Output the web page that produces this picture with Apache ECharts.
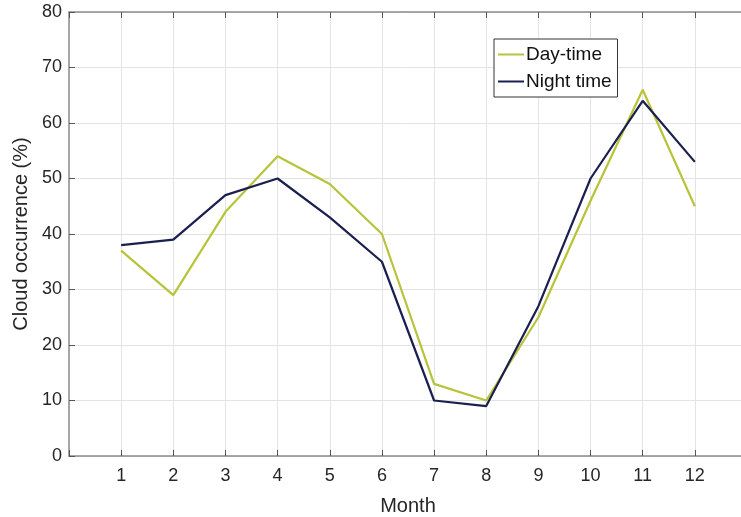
<!DOCTYPE html>
<html>
<head>
<meta charset="utf-8">
<script src="https://cdn.jsdelivr.net/npm/echarts@6/dist/echarts.min.js"></script>
<style>
  html, body { margin: 0; padding: 0; background: #fff; }
  #chart { width: 741px; height: 517px; }
</style>
</head>
<body>
<div id="chart"></div>
<script>
// Monthly cloud occurrence (%)
const months = [1, 2, 3, 4, 5, 6, 7, 8, 9, 10, 11, 12];
const dayTime = [37, 29, 44, 54, 49, 40, 13, 10, 25, 46, 66, 45];
const nightTime = [38, 39, 47, 50, 43, 35, 10, 9, 27, 50, 64, 53];
const yTicks = [0, 10, 20, 30, 40, 50, 60, 70, 80];

const font = '"Liberation Sans", Arial, Helvetica, sans-serif';
const axisGrey = '#8c8c8c';
const textColor = '#262626';

const chart = echarts.init(document.getElementById('chart'), null, { renderer: 'canvas' });

const pairs = (ys) => months.map((m, i) => [m, ys[i]]);

chart.setOption({
  animation: false,
  backgroundColor: '#ffffff',
  // plot box runs slightly past the right edge of the canvas
  grid: {
    left: 69, top: 12, width: 678, height: 444,
    containLabel: false, outerBoundsMode: 'none'
  },
  legend: {
    orient: 'vertical',
    left: 494,
    top: 39,
    padding: [6, 6, 6, 4],
    itemGap: 8,
    itemWidth: 26,
    itemHeight: 2,
    icon: 'rect',
    borderColor: '#333',
    borderWidth: 1,
    backgroundColor: '#fff',
    textStyle: { fontFamily: font, fontSize: 19, color: '#111', padding: [0, 0, 0, -3] },
    data: ['Day-time', 'Night time']
  },
  xAxis: [
    {
      type: 'value', min: 0, max: 13, interval: 1, position: 'bottom',
      name: 'Month', nameLocation: 'middle', nameGap: 40,
      nameTextStyle: { fontFamily: font, fontSize: 20, color: textColor },
      axisLine: { show: true, lineStyle: { color: axisGrey, width: 1.5 } },
      axisTick: { show: true, inside: true, length: 6, lineStyle: { color: '#555' } },
      axisLabel: {
        fontFamily: font, fontSize: 18, color: textColor, margin: 11,
        formatter: (v) => (months.indexOf(v) >= 0 ? String(v) : '')
      },
      splitLine: { show: true, lineStyle: { color: '#e3e3e3', width: 1 } }
    },
    {
      type: 'value', min: 0, max: 13, interval: 1, position: 'top',
      axisLine: { show: true, lineStyle: { color: axisGrey, width: 1.5 } },
      axisTick: { show: true, inside: true, length: 6, lineStyle: { color: '#555' } },
      axisLabel: { show: false },
      splitLine: { show: false }
    }
  ],
  yAxis: {
    type: 'value', min: yTicks[0], max: yTicks[yTicks.length - 1], interval: 10,
    name: 'Cloud occurrence (%)', nameLocation: 'middle', nameGap: 37,
    nameTextStyle: { fontFamily: font, fontSize: 20, color: textColor },
    axisLine: { show: true, lineStyle: { color: axisGrey, width: 1.5 } },
    axisTick: { show: true, inside: true, length: 6, lineStyle: { color: '#555' } },
    axisLabel: { fontFamily: font, fontSize: 18, color: textColor, margin: 7 },
    splitLine: { show: true, lineStyle: { color: '#e3e3e3', width: 1 } }
  },
  series: [
    {
      name: 'Day-time', type: 'line', xAxisIndex: 0,
      data: pairs(dayTime), symbol: 'none',
      lineStyle: { color: '#b7c43a', width: 2.2 },
      itemStyle: { color: '#b7c43a' }
    },
    {
      name: 'Night time', type: 'line', xAxisIndex: 0,
      data: pairs(nightTime), symbol: 'none',
      lineStyle: { color: '#1b1f50', width: 2.2 },
      itemStyle: { color: '#1b1f50' }
    }
  ]
});
</script>
</body>
</html>
